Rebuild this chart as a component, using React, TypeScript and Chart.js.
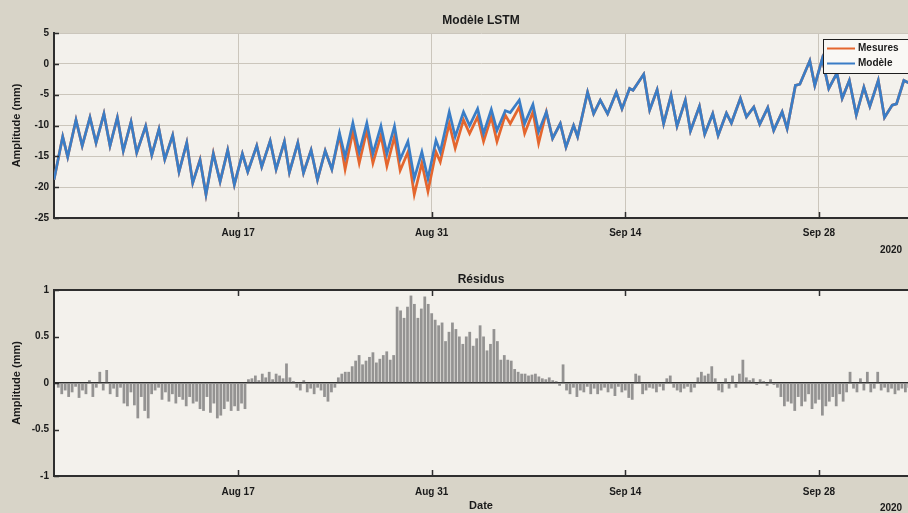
import React, { useEffect, useRef } from "react";
import { Chart, registerables } from "chart.js";

Chart.register(...registerables);

// ---------- DATA ----------
// time unit: days since Aug 1, 2020 00:00
const TICK_DAYS = [16, 30, 44, 58];
const TICK_LABELS = ["Aug 17", "Aug 31", "Sep 14", "Sep 28"];
const YEAR_LABEL = "2020";
const X_MIN = 2.69;
const X_MAX = 64.44;

const TOP_TITLE = "Modèle LSTM";
const RES_TITLE = "Résidus";
const Y_TITLE = "Amplitude (mm)";
const X_TITLE = "Date";
const SERIES_NAMES = ["Mesures", "Modèle"];

const TOP_Y_MIN = -25;
const TOP_Y_MAX = 5;
const TOP_Y_STEP = 5;
const RES_Y_MIN = -1;
const RES_Y_MAX = 1;
const RES_Y_STEP = 0.5;
const RES_Y_TICKS = [-1, -0.5, 0, 0.5, 1];
const RES_Y_LABELS = ["-1", "-0.5", "0", "0.5", "1"];

const MODEL_T = [
  2.69, 3.32, 3.68, 4.28, 4.73, 5.29, 5.73, 6.30, 6.74, 7.27, 7.70, 8.26, 8.67, 9.32, 9.76,
  10.28, 10.70, 11.27, 11.73, 12.29, 12.72, 13.25, 13.68, 14.21, 14.70, 15.25, 15.73, 16.31, 16.70,
  17.35, 17.71, 18.32, 18.75, 19.35, 19.71, 20.32, 20.73, 21.28, 21.74, 22.30, 22.78, 23.33, 23.74,
  24.30, 24.76, 25.31, 25.75, 26.33, 26.76, 27.31, 27.72, 28.28, 28.74, 29.29, 29.73, 30.31, 30.62,
  31.27, 31.70, 32.30, 32.74, 33.32, 33.75, 34.31, 34.72, 35.32, 35.68, 36.33, 36.72, 37.32, 37.73,
  38.29, 38.74, 39.30, 39.71, 40.26, 40.55, 41.27, 41.71, 42.19, 42.72, 43.35, 43.76, 44.31, 44.56,
  45.33, 45.76, 46.30, 46.77, 47.31, 47.74, 48.34, 48.71, 49.36, 49.74, 50.32, 50.71, 51.31, 51.67,
  52.32, 52.76, 53.29, 53.72, 54.30, 54.73, 55.34, 55.70, 56.30, 56.62, 57.34, 57.70, 58.24, 58.71,
  59.30, 59.68, 60.20, 60.70, 61.25, 61.68, 62.29, 62.74, 63.30, 63.61, 64.14, 64.60,
];

const MODEL_V = [
  -18.8, -11.8, -15.1, -9.1, -13.3, -8.7, -12.8, -8.1, -13.3, -8.7, -14.1, -9.4, -14.4, -10.1, -14.8,
  -10.6, -15.5, -11.6, -17.5, -12.8, -19.3, -15.6, -21.2, -14.6, -19.1, -14.0, -19.6, -14.6, -17.5,
  -13.3, -16.7, -12.5, -17.1, -12.6, -17.6, -12.8, -17.7, -14.0, -18.8, -14.1, -17.1, -11.2, -15.1,
  -9.6, -14.3, -9.6, -14.6, -10.1, -14.6, -10.1, -15.5, -12.6, -18.6, -14.3, -18.6, -12.4, -14.3,
  -7.8, -11.8, -7.8, -10.0, -7.3, -11.3, -7.4, -10.8, -7.6, -7.9, -5.9, -9.7, -6.6, -11.0,
  -7.8, -12.1, -9.7, -13.5, -10.0, -11.8, -4.6, -8.1, -5.9, -8.1, -4.6, -7.3, -4.0, -4.3,
  -1.7, -7.5, -4.2, -9.7, -5.1, -10.1, -5.9, -10.9, -6.9, -11.4, -8.1, -11.6, -8.0, -9.6,
  -5.6, -8.6, -7.0, -9.8, -7.1, -10.8, -7.8, -10.5, -3.5, -3.3, 0.5, -3.5, 0.8, -4.0,
  -1.5, -5.6, -2.7, -8.3, -3.8, -6.9, -2.7, -8.7, -6.7, -6.5, -2.7, -3.2,
];

const MESURES_V = [
  -18.8, -11.8, -15.1, -9.1, -13.3, -8.7, -12.8, -8.1, -13.3, -8.7, -14.1, -9.4, -14.4, -10.1, -14.8,
  -10.6, -15.5, -11.6, -17.5, -12.8, -19.3, -15.5, -21.2, -14.5, -19.1, -14.0, -19.6, -14.6, -17.5,
  -13.3, -16.7, -12.5, -17.1, -12.6, -17.6, -12.8, -17.7, -14.0, -18.8, -14.1, -17.1, -11.6, -17.1,
  -11.0, -16.1, -10.8, -16.1, -11.6, -16.6, -11.8, -17.3, -14.3, -21.2, -16.1, -20.7, -14.3, -15.9,
  -9.7, -13.7, -9.1, -11.3, -8.6, -12.6, -8.6, -12.6, -8.3, -9.7, -7.0, -11.3, -7.8, -12.9,
  -7.8, -12.1, -9.7, -13.5, -10.0, -11.8, -4.6, -8.1, -5.9, -8.1, -4.6, -7.3, -4.0, -4.3,
  -1.7, -7.5, -4.2, -9.7, -5.1, -10.1, -5.9, -10.9, -6.9, -11.4, -8.1, -11.6, -8.0, -9.6,
  -5.6, -8.6, -7.0, -9.8, -7.1, -10.8, -7.8, -10.5, -3.5, -3.3, 0.5, -3.5, 0.8, -4.0,
  -1.5, -5.6, -2.7, -8.3, -3.8, -6.9, -2.7, -8.7, -6.7, -6.5, -2.7, -3.2,
];

// residuals, every 6 h starting Aug 4 00:00 (day 3)
const RES_START = 3;
const RES_STEP = 0.25;
const RES_V = [
  -0.05, -0.12, -0.08, -0.15,
  -0.10, -0.04, -0.16, -0.08,
  -0.12, 0.03, -0.15, -0.05,
  0.12, -0.08, 0.14, -0.12,
  -0.06, -0.15, -0.05, -0.22,
  -0.25, -0.10, -0.24, -0.38,
  -0.15, -0.30, -0.38, -0.12,
  -0.08, -0.05, -0.18, -0.10,
  -0.20, -0.12, -0.22, -0.15,
  -0.18, -0.25, -0.15, -0.22,
  -0.20, -0.28, -0.30, -0.15,
  -0.32, -0.22, -0.38, -0.35,
  -0.28, -0.20, -0.30, -0.25,
  -0.30, -0.22, -0.28, 0.04,
  0.05, 0.08, 0.03, 0.10,
  0.06, 0.12, 0.04, 0.10,
  0.08, 0.05, 0.21, 0.06,
  0.02, -0.05, -0.08, 0.03,
  -0.10, -0.06, -0.12, -0.05,
  -0.08, -0.15, -0.20, -0.10,
  -0.05, 0.06, 0.10, 0.12,
  0.12, 0.18, 0.24, 0.30,
  0.20, 0.24, 0.28, 0.33,
  0.22, 0.26, 0.30, 0.34,
  0.25, 0.30, 0.82, 0.78,
  0.70, 0.82, 0.94, 0.85,
  0.70, 0.80, 0.93, 0.85,
  0.75, 0.68, 0.62, 0.65,
  0.45, 0.55, 0.65, 0.58,
  0.50, 0.42, 0.50, 0.55,
  0.40, 0.48, 0.62, 0.50,
  0.35, 0.42, 0.58, 0.45,
  0.25, 0.30, 0.25, 0.24,
  0.15, 0.12, 0.10, 0.10,
  0.08, 0.09, 0.10, 0.07,
  0.05, 0.04, 0.06, 0.03,
  0.02, -0.03, 0.20, -0.08,
  -0.12, -0.05, -0.15, -0.08,
  -0.10, -0.04, -0.12, -0.06,
  -0.12, -0.08, -0.05, -0.10,
  -0.06, -0.14, -0.04, -0.10,
  -0.08, -0.16, -0.18, 0.10,
  0.08, -0.12, -0.08, -0.05,
  -0.06, -0.10, -0.04, -0.08,
  0.05, 0.08, -0.05, -0.08,
  -0.10, -0.06, -0.04, -0.10,
  -0.05, 0.06, 0.12, 0.08,
  0.10, 0.18, 0.05, -0.08,
  -0.10, 0.05, -0.06, 0.08,
  -0.05, 0.10, 0.25, 0.06,
  0.03, 0.05, -0.02, 0.04,
  0.02, -0.03, 0.04, -0.02,
  -0.05, -0.15, -0.25, -0.20,
  -0.22, -0.30, -0.15, -0.25,
  -0.20, -0.12, -0.28, -0.22,
  -0.18, -0.35, -0.25, -0.20,
  -0.15, -0.25, -0.12, -0.20,
  -0.10, 0.12, -0.06, -0.10,
  0.05, -0.08, 0.12, -0.10,
  -0.06, 0.12, -0.08, -0.05,
  -0.10, -0.06, -0.12, -0.08,
  -0.06, -0.10, -0.05, -0.08,
];

// ---------- STYLE ----------
const FONT = "'Liberation Sans', Arial, Helvetica, sans-serif";
const OUTER_BG = "#d8d4c8";
const PLOT_BG = "#f3f1ec";
const GRID = "#cbc6bc";
const AXIS = "#2e2e2e";
const TEXT = "#1a1a1a";
const BLUE = "#3a7dc6";
const ORANGE = "#e4662e";
const RES_COLOR = "rgba(138,136,136,0.9)";

const W = 908;
const TOP_H = 258;
const BOT_H = 255;

const tickLabel = (v: number) => {
  const i = TICK_DAYS.indexOf(v);
  return i >= 0 ? TICK_LABELS[i] : "";
};

function xScale(extra: any = {}) {
  return {
    type: "linear",
    min: X_MIN,
    max: X_MAX,
    afterBuildTicks: (s: any) => {
      s.ticks = TICK_DAYS.map((v) => ({ value: v }));
    },
    border: { display: true, color: AXIS, width: 2 },
    ...extra,
  };
}

function makeFramePlugin(kind: "top" | "bot") {
  return {
    id: "frame_" + kind,
    beforeDraw(chart: any) {
      const { ctx, chartArea: a } = chart;
      ctx.save();
      ctx.fillStyle = OUTER_BG;
      ctx.fillRect(0, 0, chart.width, chart.height);
      ctx.fillStyle = PLOT_BG;
      ctx.fillRect(a.left, a.top, a.right - a.left, a.bottom - a.top);
      ctx.restore();
    },
    afterDraw(chart: any) {
      const { ctx, chartArea: a } = chart;
      const xs = chart.scales.x;
      const ys = chart.scales.y;
      ctx.save();
      ctx.strokeStyle = AXIS;
      ctx.lineWidth = 1.5;
      // inward ticks (MATLAB style)
      for (const d of TICK_DAYS) {
        const px = Math.round(xs.getPixelForValue(d)) + 0.5;
        ctx.beginPath();
        ctx.moveTo(px, a.bottom);
        ctx.lineTo(px, a.bottom - 6);
        if (kind === "bot") {
          ctx.moveTo(px, a.top);
          ctx.lineTo(px, a.top + 6);
        }
        ctx.stroke();
      }
      for (const t of ys.ticks) {
        const py = Math.round(ys.getPixelForValue(t.value)) + 0.5;
        ctx.beginPath();
        ctx.moveTo(a.left, py);
        ctx.lineTo(a.left + 5, py);
        ctx.stroke();
      }
      if (kind === "bot") {
        ctx.lineWidth = 2;
        ctx.beginPath();
        ctx.moveTo(a.left, a.top);
        ctx.lineTo(a.right, a.top);
        ctx.stroke();
      }
      // year label
      ctx.fillStyle = TEXT;
      ctx.font = `bold 10px ${FONT}`;
      ctx.textAlign = "center";
      ctx.textBaseline = "middle";
      ctx.fillText(YEAR_LABEL, 891, 250);

      if (kind === "top") {
        // legend box
        const lx = 823, ly = 39, lw = 90, lh = 34;
        ctx.fillStyle = "#f9f8f5";
        ctx.fillRect(lx, ly, lw, lh);
        ctx.strokeStyle = "#1e1e1e";
        ctx.lineWidth = 1;
        ctx.strokeRect(lx + 0.5, ly + 0.5, lw, lh);
        const rows = [
          { name: SERIES_NAMES[0], color: ORANGE, y: 48.5 },
          { name: SERIES_NAMES[1], color: BLUE, y: 63.5 },
        ];
        for (const r of rows) {
          ctx.strokeStyle = r.color;
          ctx.lineWidth = 2;
          ctx.beginPath();
          ctx.moveTo(827, r.y);
          ctx.lineTo(855, r.y);
          ctx.stroke();
          ctx.fillStyle = TEXT;
          ctx.font = `bold 10px ${FONT}`;
          ctx.textAlign = "left";
          ctx.textBaseline = "middle";
          ctx.fillText(r.name, 858, r.y);
        }
      }
      ctx.restore();
    },
  };
}

function yTitle() {
  return {
    display: true,
    text: Y_TITLE,
    color: TEXT,
    font: { family: FONT, size: 11, weight: "bold" },
    padding: { top: 10.5, bottom: 0 },
  };
}

export default function App() {
  const topRef = useRef<HTMLCanvasElement | null>(null);
  const botRef = useRef<HTMLCanvasElement | null>(null);

  useEffect(() => {
    const modelData = MODEL_T.map((t, i) => ({ x: t, y: MODEL_V[i] }));
    const mesData = MODEL_T.map((t, i) => ({ x: t, y: MESURES_V[i] }));
    const resData = RES_V.map((v, i) => ({ x: RES_START + i * RES_STEP, y: v }));

    const top = new Chart(topRef.current as HTMLCanvasElement, {
      type: "line",
      data: {
        datasets: [
          {
            label: SERIES_NAMES[1],
            data: modelData,
            borderColor: BLUE,
            borderWidth: 2.7,
            pointRadius: 0,
            tension: 0,
          },
          {
            label: SERIES_NAMES[0],
            data: mesData,
            borderColor: ORANGE,
            borderWidth: 2.7,
            pointRadius: 0,
            tension: 0,
          },
        ],
      },
      options: {
        responsive: false,
        animation: false,
        events: [],
        layout: { padding: 0 },
        plugins: {
          legend: { display: false },
          tooltip: { enabled: false },
          title: {
            display: true,
            text: TOP_TITLE,
            fullSize: false,
            color: TEXT,
            font: { family: FONT, size: 12, weight: "bold" },
            padding: { top: 13.2, bottom: 5.4 },
          },
        },
        scales: {
          x: xScale({
            grid: { display: true, color: GRID, lineWidth: 1, drawTicks: false },
            afterFit: (s: any) => {
              s.height = 40;
            },
            ticks: {
              autoSkip: false,
              maxRotation: 0,
              padding: 9,
              color: TEXT,
              font: { family: FONT, size: 10, weight: "bold" },
              callback: tickLabel,
            },
          }),
          y: {
            type: "linear",
            min: TOP_Y_MIN,
            max: TOP_Y_MAX,
            afterFit: (s: any) => {
              s.width = 54;
            },
            ticks: {
              stepSize: TOP_Y_STEP,
              padding: 5,
              color: TEXT,
              font: { family: FONT, size: 10, weight: "bold" },
            },
            grid: { display: true, color: GRID, lineWidth: 1, drawTicks: false },
            border: { display: true, color: AXIS, width: 2 },
            title: yTitle(),
          },
        },
      } as any,
      plugins: [makeFramePlugin("top")],
    });

    const bot = new Chart(botRef.current as HTMLCanvasElement, {
      type: "bar",
      data: {
        datasets: [
          {
            label: RES_TITLE,
            data: resData,
            backgroundColor: RES_COLOR,
            borderWidth: 0,
            barPercentage: 0.8,
            categoryPercentage: 1,
          },
        ],
      },
      options: {
        responsive: false,
        animation: false,
        events: [],
        layout: { padding: 0 },
        plugins: {
          legend: { display: false },
          tooltip: { enabled: false },
          title: {
            display: true,
            text: RES_TITLE,
            fullSize: false,
            color: TEXT,
            font: { family: FONT, size: 12, weight: "bold" },
            padding: { top: 14.8, bottom: 2.8 },
          },
        },
        scales: {
          x: xScale({
            offset: false,
            grid: { display: true, color: "rgba(0,0,0,0)", drawTicks: false, offset: false },
            afterFit: (s: any) => {
              s.height = 37;
            },
            title: {
              display: true,
              text: X_TITLE,
              color: TEXT,
              font: { family: FONT, size: 11, weight: "bold" },
              padding: { top: 0, bottom: 0.4 },
            },
            ticks: {
              autoSkip: false,
              maxRotation: 0,
              padding: 10,
              color: TEXT,
              font: { family: FONT, size: 10, weight: "bold" },
              callback: tickLabel,
            },
          }),
          y: {
            type: "linear",
            min: RES_Y_MIN,
            max: RES_Y_MAX,
            afterFit: (s: any) => {
              s.width = 54;
            },
            ticks: {
              stepSize: RES_Y_STEP,
              padding: 5,
              color: TEXT,
              font: { family: FONT, size: 10, weight: "bold" },
              callback: (v: number) => {
                const i = RES_Y_TICKS.indexOf(v);
                return i >= 0 ? RES_Y_LABELS[i] : "";
              },
            },
            grid: {
              display: true,
              drawTicks: false,
              color: (c: any) => (c.tick && c.tick.value === 0 ? AXIS : "rgba(0,0,0,0)"),
              lineWidth: (c: any) => (c.tick && c.tick.value === 0 ? 1.6 : 0),
            },
            border: { display: true, color: AXIS, width: 2 },
            title: yTitle(),
          },
        },
      } as any,
      plugins: [makeFramePlugin("bot")],
    });

    return () => {
      top.destroy();
      bot.destroy();
    };
  }, []);

  return (
    <div
      style={{
        position: "absolute",
        left: 0,
        top: 0,
        width: W,
        height: TOP_H + BOT_H,
        background: OUTER_BG,
        overflow: "hidden",
      }}
    >
      <canvas
        ref={topRef}
        width={W}
        height={TOP_H}
        style={{ position: "absolute", left: 0, top: 0, width: W, height: TOP_H }}
      />
      <canvas
        ref={botRef}
        width={W}
        height={BOT_H}
        style={{ position: "absolute", left: 0, top: TOP_H, width: W, height: BOT_H }}
      />
    </div>
  );
}
